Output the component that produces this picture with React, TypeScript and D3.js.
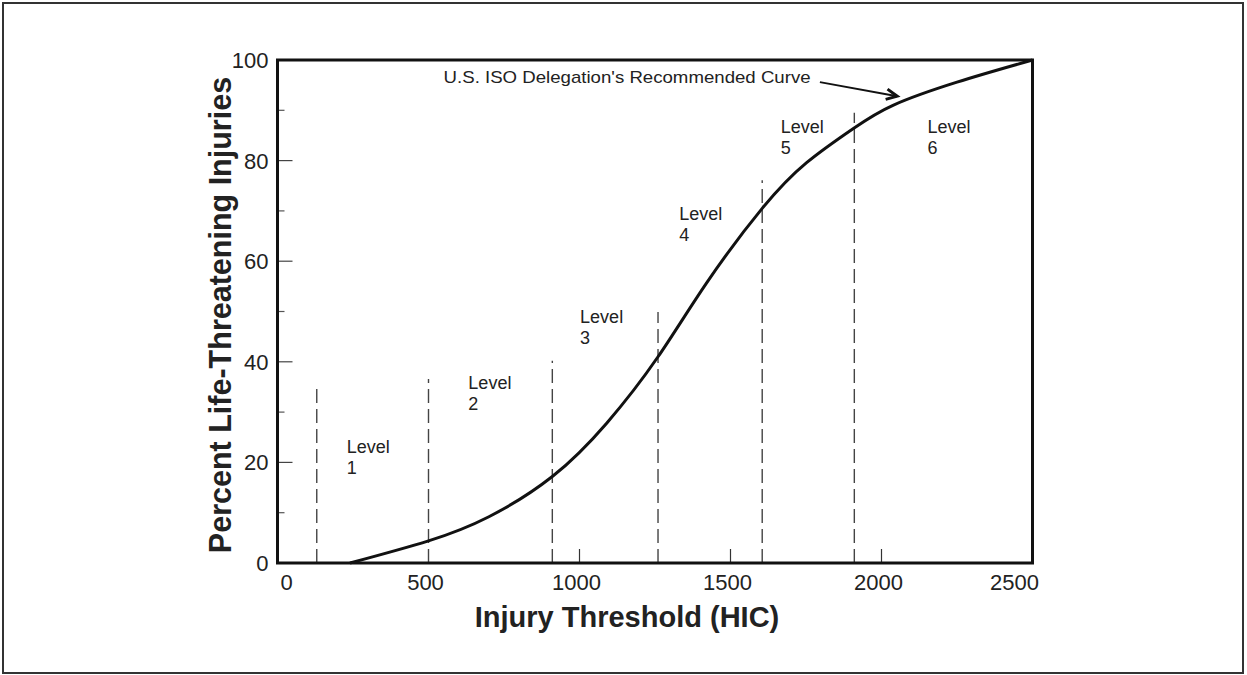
import React from "react";
import * as d3 from "d3";

// ---- data ----
const curveHIC = [240, 500, 700, 910, 1090, 1260, 1421, 1605, 1752, 1907, 2038, 2250, 2500];
const curvePct = [0, 4.4, 9.2, 17.2, 27.8, 41, 55.7, 70.5, 79.6, 86.4, 91.0, 95.6, 100];

const boundaryHIC = [130, 500, 910, 1260, 1605, 1910];
const boundaryTop = [34.6, 36.6, 40.2, 49.9, 76.1, 89.5];

const levelNums = ["1", "2", "3", "4", "5", "6"];
const levelHIC = [229, 632, 1002, 1330, 1666, 2152];
const levelPct = [21.9, 34.6, 47.7, 68.1, 85.5, 85.5];

const xTicks = [0, 500, 1000, 1500, 2000, 2500];
const xInnerTicks = [1000, 1500, 2000];
const yMajor = [0, 20, 40, 60, 80, 100];
const yMinor = [10, 30, 50, 70, 90];
const yInner = [20, 40, 60, 80];

const annotationText = "U.S. ISO Delegation's Recommended Curve";
const annotationAt = [550, 95.5];
const arrowFrom = [1796, 95.6];
const arrowTo = [2052, 92.8];

const xTitle = "Injury Threshold (HIC)";
const yTitle = "Percent Life-Threatening Injuries";

const W = 1247;
const H = 675;
const L = 277.5, R = 1032.5, T = 60, B = 563;
const FONT = "'Liberation Sans', Arial, Helvetica, sans-serif";

export default function App() {
  const x = d3.scaleLinear().domain([0, 2500]).range([L, R]);
  const y = d3.scaleLinear().domain([0, 100]).range([B, T]);
  const pts: [number, number][] = curveHIC.map((h, i) => [h, curvePct[i]]);
  const line = d3
    .line<[number, number]>()
    .x((d) => x(d[0]))
    .y((d) => y(d[1]))
    .curve(d3.curveNatural);

  const ax1 = x(arrowFrom[0]), ay1 = y(arrowFrom[1]);
  const ax2 = x(arrowTo[0]), ay2 = y(arrowTo[1]);
  const ang = Math.atan2(ay2 - ay1, ax2 - ax1);
  const hl = 12, ha = 0.45;
  const head = `M${ax2 - hl * Math.cos(ang - ha)},${ay2 - hl * Math.sin(ang - ha)} L${ax2},${ay2} L${ax2 - hl * Math.cos(ang + ha)},${ay2 - hl * Math.sin(ang + ha)}`;

  const xLabelDx = (i: number) => (i === 0 ? 9 : i === xTicks.length - 1 ? -18 : -3);

  return (
    <svg
      width={W}
      height={H}
      style={{ position: "absolute", left: 0, top: 0, background: "#fff" }}
      fontFamily={FONT}
    >
      <rect x={0} y={0} width={W} height={H} fill="#fff" />
      <rect x={3} y={3} width={1240} height={670} fill="none" stroke="#333" strokeWidth={2} />

      {/* boundaries */}
      {boundaryHIC.map((h, i) => (
        <line
          key={"b" + i}
          x1={x(h)}
          x2={x(h)}
          y1={B}
          y2={y(boundaryTop[i])}
          stroke="#444"
          strokeWidth={1.4}
          strokeDasharray="14,6"
        />
      ))}

      {/* y ticks */}
      {yMinor.map((v) => (
        <line key={"ym" + v} x1={L} x2={L + 7} y1={y(v)} y2={y(v)} stroke="#555" strokeWidth={1.2} />
      ))}
      {yInner.map((v) => (
        <line key={"yj" + v} x1={L} x2={L + 15} y1={y(v)} y2={y(v)} stroke="#444" strokeWidth={1.2} />
      ))}
      {xInnerTicks.map((v) => (
        <line key={"xi" + v} x1={x(v)} x2={x(v)} y1={B} y2={B - 14} stroke="#333" strokeWidth={1.2} />
      ))}

      {/* curve */}
      <path d={line(pts) || ""} fill="none" stroke="#111" strokeWidth={3} />

      {/* frame */}
      <rect x={L} y={T} width={R - L} height={B - T} fill="none" stroke="#111" strokeWidth={3} />

      {/* tick labels */}
      {yMajor.map((v) => (
        <text key={"yl" + v} x={L - 9} y={y(v) + 8} textAnchor="end" fontSize={22} fill="#222">
          {v}
        </text>
      ))}
      {xTicks.map((v, i) => (
        <text key={"xl" + v} x={x(v) + xLabelDx(i)} y={590} textAnchor="middle" fontSize={22} fill="#222">
          {v}
        </text>
      ))}

      {/* level labels */}
      {levelNums.map((n, i) => (
        <text key={"lv" + i} x={x(levelHIC[i])} y={y(levelPct[i])} fontSize={18} fill="#222">
          <tspan x={x(levelHIC[i])}>Level</tspan>
          <tspan x={x(levelHIC[i])} dy={21}>{n}</tspan>
        </text>
      ))}

      {/* annotation */}
      <text
        x={x(annotationAt[0])}
        y={y(annotationAt[1])}
        fontSize={17}
        fill="#222"
        textLength={367}
        lengthAdjust="spacingAndGlyphs"
      >
        {annotationText}
      </text>
      <line x1={ax1} y1={ay1} x2={ax2} y2={ay2} stroke="#111" strokeWidth={2} />
      <path d={head} fill="none" stroke="#111" strokeWidth={3} strokeLinejoin="miter" />

      {/* titles */}
      <text x={627} y={627} textAnchor="middle" fontSize={29} fontWeight="bold" fill="#222">
        {xTitle}
      </text>
      <text
        transform={`translate(231,315) rotate(-90)`}
        textAnchor="middle"
        fontSize={30.5}
        fontWeight="bold"
        fill="#222"
      >
        {yTitle}
      </text>
    </svg>
  );
}
